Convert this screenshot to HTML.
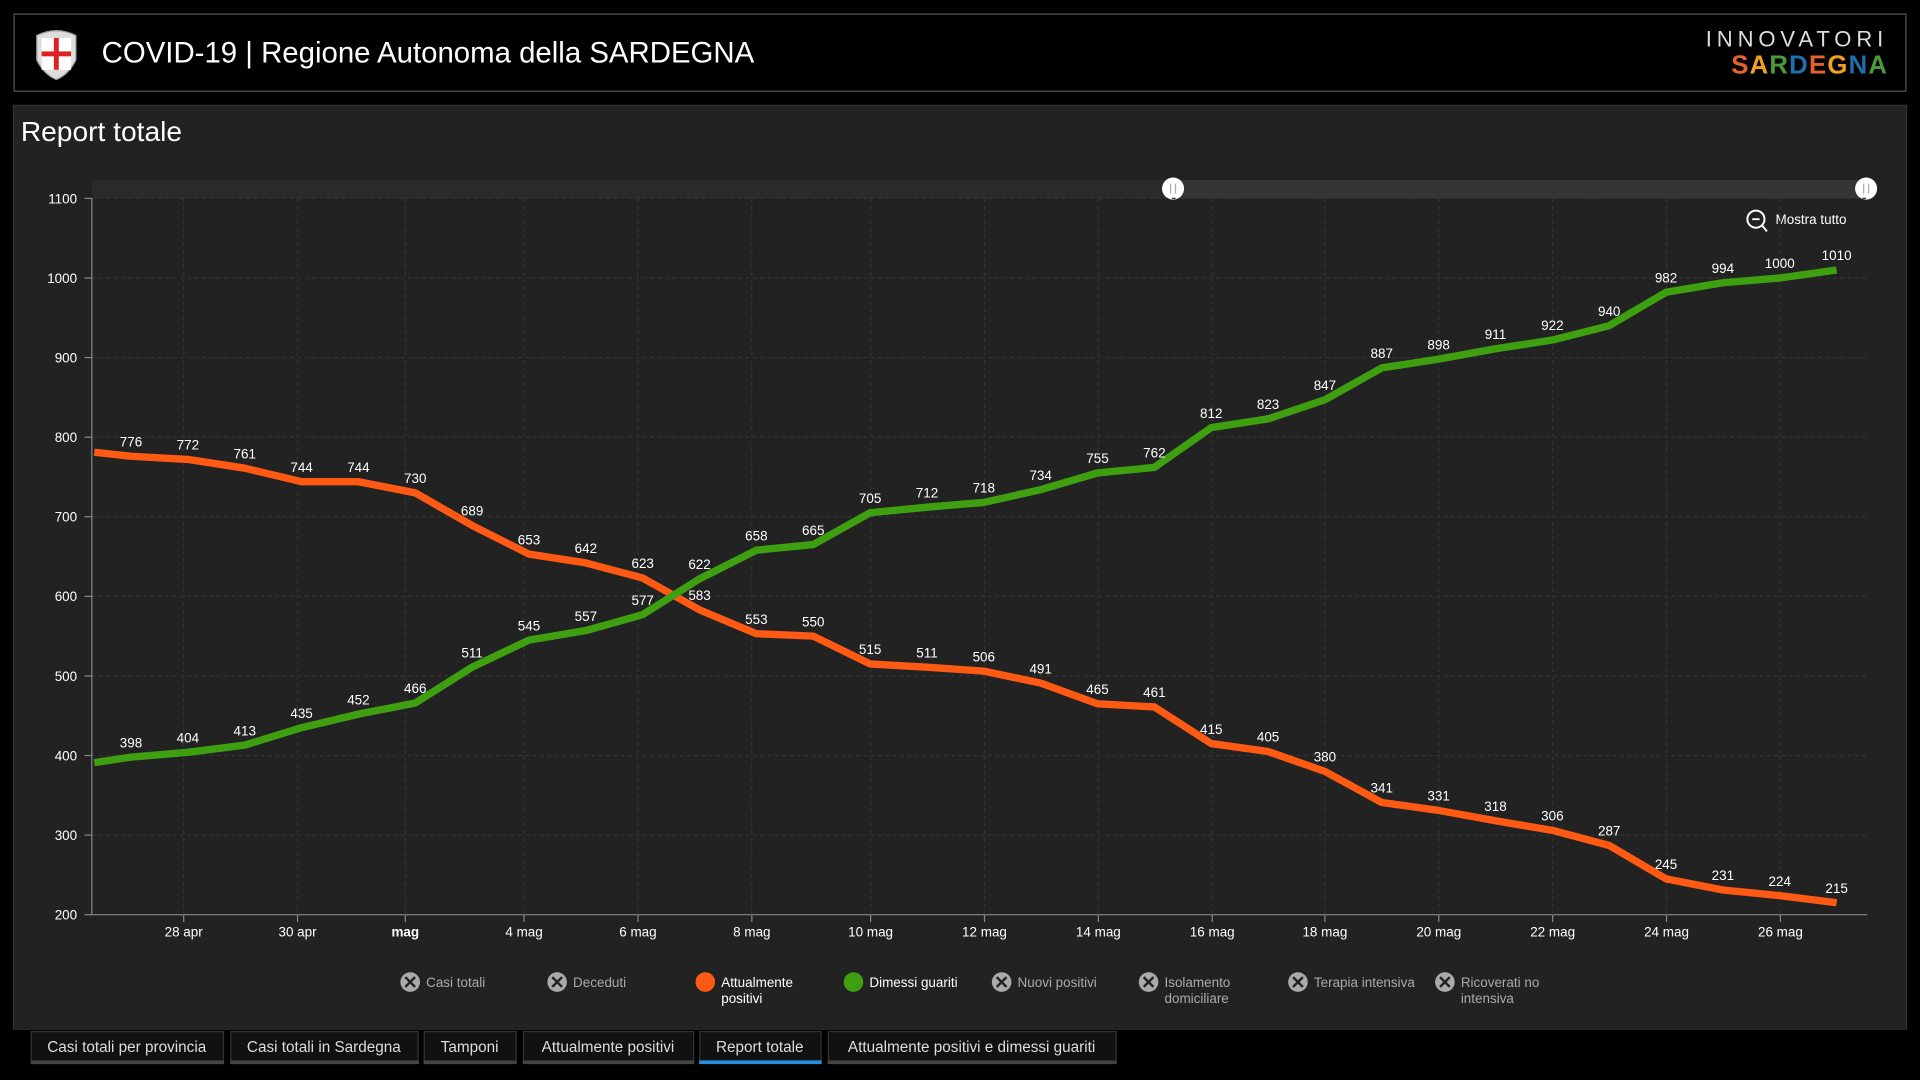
<!DOCTYPE html>
<html><head><meta charset="utf-8"><style>
html,body{margin:0;padding:0;background:#000;width:1920px;height:1080px;overflow:hidden}
svg{display:block;font-family:"Liberation Sans",sans-serif}
</style></head><body>
<svg id="s" width="1920" height="1080" viewBox="0 0 1568 882" preserveAspectRatio="none" xmlns="http://www.w3.org/2000/svg">
<rect width="1568" height="882" fill="#000"/>
<rect x="11.5" y="11.5" width="1545" height="63" fill="#000" stroke="#555"/>
<g transform="translate(46,43)">
<path d="M-16,-14 Q0,-22 16,-14 L16,6 Q10,18 0,22 Q-10,18 -16,6 Z" fill="#ddd" stroke="#999"/>
<rect x="-12" y="-12" width="24" height="26" fill="#fff"/>
<rect x="-2" y="-12" width="4" height="26" fill="#d22"/><rect x="-12" y="-1" width="24" height="4" fill="#d22"/>
</g>
<text x="83" y="51" fill="#fff" font-size="24">COVID-19 | Regione Autonoma della SARDEGNA</text>
<text x="1542" y="38" fill="#ddd" font-size="18" text-anchor="end" letter-spacing="4">INNOVATORI</text>
<text x="1542" y="60" font-size="21" font-weight="bold" text-anchor="end" letter-spacing="1"><tspan fill="#e8632a">S</tspan><tspan fill="#f0a020">A</tspan><tspan fill="#4a9a3a">R</tspan><tspan fill="#1d6fb0">D</tspan><tspan fill="#e8632a">E</tspan><tspan fill="#f0a020">G</tspan><tspan fill="#1d6fb0">N</tspan><tspan fill="#4a9a3a">A</tspan></text>
<rect x="11" y="86" width="1546" height="755" fill="#222" stroke="#333"/>
<text x="17" y="115" fill="#fff" font-size="23">Report totale</text>
<rect x="75" y="147" width="1450" height="15" fill="#2a2a2a"/>
<rect x="958" y="147" width="566" height="15" fill="#353535"/>
<circle cx="958" cy="154" r="9" fill="#fff"/><circle cx="1524" cy="154" r="9" fill="#fff"/>
<path d="M956,150v8M960,150v8M1522,150v8M1526,150v8" stroke="#aaa" stroke-width="1"/>
<circle cx="1434" cy="179" r="7" fill="none" stroke="#fff" stroke-width="1.6"/><path d="M1431,179h6M1439,184l4,5" stroke="#fff" stroke-width="1.6"/>
<text x="1450" y="183" fill="#fff" font-size="11">Mostra tutto</text>
<g id="g"></g>
<g font-size="11" fill="#ccc">
<text x="335" y="806" dx="12">Casi totali</text>
</g>
<g id="leg" font-size="11"></g>
<rect x="11" y="841" width="1546" height="41" fill="#000"/>
<g id="tabs" font-size="12.5"></g>
</svg>
<script>
var NS="http://www.w3.org/2000/svg",g=document.getElementById('g');
function el(t,a,p,txt){var e=document.createElementNS(NS,t);for(var k in a)e.setAttribute(k,a[k]);if(txt!=null)e.textContent=txt;(p||g).appendChild(e);return e;}
function Y(v){return 747-(v-200)*0.65;}
for(var v=200;v<=1100;v+=100){var y=Y(v);
 if(v>200)el('line',{x1:75,x2:1525,y1:y,y2:y,stroke:'#333','stroke-dasharray':'3,3'});
 el('line',{x1:69,x2:75,y1:y,y2:y,stroke:'#888'});
 el('text',{x:63,y:y+4,fill:'#fff','font-size':11,'text-anchor':'end'},null,v);}
el('line',{x1:75,x2:75,y1:162,y2:747,stroke:'#888'});
el('line',{x1:75,x2:1525,y1:747,y2:747,stroke:'#888'});
var d=[["28 apr",150],["30 apr",243],["mag",331],["4 mag",428],["6 mag",521],["8 mag",614],["10 mag",711],["12 mag",804],["14 mag",897],["16 mag",990],["18 mag",1082],["20 mag",1175],["22 mag",1268],["24 mag",1361],["26 mag",1454]];
d.forEach(function(t){el('line',{x1:t[1],x2:t[1],y1:162,y2:747,stroke:'#333','stroke-dasharray':'3,3'});
el('line',{x1:t[1],x2:t[1],y1:747,y2:753,stroke:'#888'});
var a={x:t[1],y:765,fill:'#fff','font-size':11,'text-anchor':'middle'};if(t[0]=='mag')a['font-weight']='bold';el('text',a,null,t[0]);});
var o=[776,772,761,744,744,730,689,653,642,623,583,553,550,515,511,506,491,465,461,415,405,380,341,331,318,306,287,245,231,224,215];
var gr=[398,404,413,435,452,466,511,545,557,577,622,658,665,705,712,718,734,755,762,812,823,847,887,898,911,922,940,982,994,1000,1010];
function X(i){return 107+i*46.43;}
function line(arr,start,col){var p=[[77,Y(start)]];arr.forEach(function(v,i){p.push([X(i),Y(v)]);});
el('polyline',{points:p.map(function(q){return q.join(',')}).join(' '),fill:'none',stroke:col,'stroke-width':6,'stroke-linejoin':'round'});}
line(o,781,'#ff5a14');line(gr,391,'#3ea010');
function labs(arr){arr.forEach(function(v,i){el('text',{x:X(i),y:Y(v)-8,fill:'#fff','font-size':11,'text-anchor':'middle'},null,v);});}
labs(o);labs(gr);
var L=document.getElementById('leg');
var items=[[335,"Casi totali",null],[455,"Deceduti",null],[576,"Attualmente|positivi","#ff5a14"],[697,"Dimessi guariti","#3ea010"],[818,"Nuovi positivi",null],[938,"Isolamento|domiciliare",null],[1060,"Terapia intensiva",null],[1180,"Ricoverati no|intensiva",null]];
document.querySelector('g[font-size="11"][fill="#ccc"]').remove();
items.forEach(function(it){var x=it[0];
 el('circle',{cx:x,cy:802,r:8,fill:it[2]||'#aaa'},L);
 if(!it[2])el('path',{d:'M'+(x-4)+',798l8,8M'+(x+4)+',798l-8,8',stroke:'#222','stroke-width':2},L);
 var ps=it[1].split('|');ps.forEach(function(s,j){el('text',{x:x+13,y:806+j*13,fill:it[2]?'#fff':'#aaa'},L,s);});});
var T=document.getElementById('tabs');
var tabs=[[25,182,"Casi totali per provincia"],[188,341,"Casi totali in Sardegna"],[346,421,"Tamponi"],[427,566,"Attualmente positivi"],[571,670,"Report totale"],[676,911,"Attualmente positivi e dimessi guariti"]];
tabs.forEach(function(t){el('rect',{x:t[0]+.5,y:842.5,width:t[1]-t[0],height:26,fill:'#111',stroke:'#333'},T);
 el('rect',{x:t[0],y:866,width:t[1]-t[0]+1,height:3,fill:t[2]=="Report totale"?'#2a8ee0':'#444'},T);
 el('text',{x:(t[0]+t[1])/2,y:859,fill:'#ddd','text-anchor':'middle'},T,t[2]);});
</script>
</body></html>
